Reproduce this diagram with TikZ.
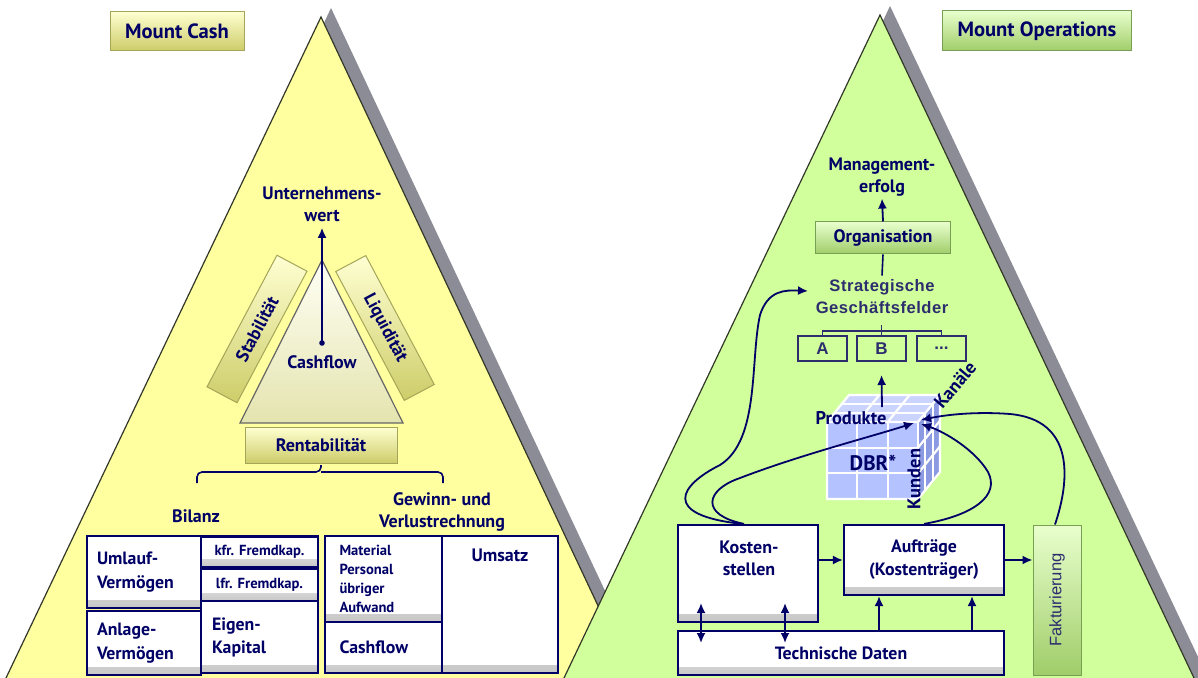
\documentclass[tikz,border=0pt]{standalone}
\usepackage{fontspec}
\setmainfont{PT Sans}
\newfontfamily\arialf{Liberation Sans}[LetterSpace=3]
\newfontfamily\arialg{Liberation Sans}
\usetikzlibrary{arrows.meta,calc}
\definecolor{navy}{RGB}{0,0,102}
\definecolor{slate}{RGB}{45,45,110}
\definecolor{yellowF}{RGB}{255,255,160}
\definecolor{greenF}{RGB}{208,255,156}
\definecolor{shadowC}{RGB}{140,140,150}
\definecolor{edgeC}{RGB}{50,55,40}
\definecolor{ybtop}{RGB}{255,255,210}
\definecolor{ybbot}{RGB}{205,205,105}
\definecolor{ybdraw}{RGB}{165,165,90}
\definecolor{gbtop}{RGB}{232,255,205}
\definecolor{gbbot}{RGB}{160,205,105}
\definecolor{gbdraw}{RGB}{120,160,85}
\definecolor{cubeF}{RGB}{180,195,255}
\definecolor{cubeT}{RGB}{202,212,255}
\definecolor{cubeR}{RGB}{140,155,225}
\tikzset{
  lbl/.style={text=navy, font=\bfseries\fontsize{9}{11}\selectfont, align=center, inner sep=0pt},
  ybtn/.style={draw=ybdraw, line width=0.5pt, top color=ybtop, bottom color=ybbot, text=navy,
    font=\bfseries\fontsize{9}{11}\selectfont, inner sep=0pt},
  gbtn/.style={draw=gbdraw, line width=0.5pt, top color=gbtop, bottom color=gbbot, text=navy,
    font=\bfseries\fontsize{9}{11}\selectfont, inner sep=0pt},
  titlefont/.style={font=\bfseries\fontsize{10.3}{12}\selectfont},
  wbox/.style={draw=navy, line width=1.1pt, fill=white, inner sep=0pt, text=navy, align=center,
    font=\bfseries\fontsize{8.9}{12}\selectfont,
    path picture={\shade[top color=white, bottom color=black!22]
      ([yshift=4pt]path picture bounding box.south west) rectangle (path picture bounding box.south east);}},
  sgbox/.style={draw=slate, line width=1pt, inner sep=0pt, text=slate,
    font=\arialg\bfseries\fontsize{8.5}{10}\selectfont, minimum width=24.5pt, minimum height=12.5pt},
  arr/.style={navy, line width=0.9pt, -{Latex[length=5pt,width=4.5pt]}},
  darr/.style={navy, line width=0.9pt, {Latex[length=5pt,width=4.5pt]}-{Latex[length=5pt,width=4.5pt]}},
  cline/.style={navy, line width=0.8pt},
  grid/.style={white, line width=1.1pt},
  bold/.style={text=navy, font=\bfseries\fontsize{9.2}{11}\selectfont, inner sep=0pt}
}
\begin{document}
\begin{tikzpicture}[x=0.5pt,y=-0.5pt]
\useasboundingbox (0,0) rectangle (1198,678);
\fill[white] (0,0) rectangle (1198,678);

% ---------- triangles ----------
\fill[shadowC] (331,8) -- (16,678) -- (646,678) -- cycle;
\fill[yellowF] (321,17) -- (6,678) -- (632,678) -- cycle;
\draw[edgeC, line width=0.6pt] (6,678) -- (321,17) -- (632,678);
\fill[shadowC] (890,6) -- (575,678) -- (1208,678) -- cycle;
\fill[greenF] (880,15) -- (564,678) -- (1194,678) -- cycle;
\draw[edgeC, line width=0.6pt] (564,678) -- (880,15) -- (1194,678);

% ---------- Mount Cash ----------
\node[ybtn, titlefont, minimum width=67pt, minimum height=19.5pt] (mc) at (177,31) {Mount Cash};
\node[lbl] (uw) at (322,204) {Unternehmens-\\wert};
\path[draw=black!60, line width=0.6pt, top color={rgb,255:red,255;green,255;blue,245},
  bottom color={rgb,255:red,228;green,228;blue,175}] (322,260) -- (240,423) -- (403,423) -- cycle;
\node[lbl] (cf) at (322,362) {Cashflow};
\coordinate (cfdot) at (322,343);
\fill[navy] (cfdot) circle (1.4pt);
\draw[arr] (cfdot) -- ([yshift=-3pt]uw.south);
\node[ybtn, rotate=62, minimum width=74.5pt, minimum height=17pt] (stab) at (257,329) {Stabilität};
\node[ybtn, rotate=-62, minimum width=73pt, minimum height=17pt] (liq) at (385,328) {Liquidität};
\node[ybtn, minimum width=76pt, minimum height=18pt] (rent) at (321,445) {Rentabilität};
\coordinate (brL) at (197,483);
\coordinate (brM) at (321,465);
\coordinate (brR) at (443,483);
\draw[cline, rounded corners=2.5pt] (brL) -- (197,472) -- (321,472) -- (brM);
\draw[cline, rounded corners=2.5pt] (321,472) -- (443,472) -- (brR);
\node[lbl] (bil) at (196,516) {Bilanz};
\node[lbl] (guv) at (442,512) {Gewinn- und\\Verlustrechnung};

% Bilanz boxes
\node[wbox, minimum width=57pt, minimum height=36pt, text width=47pt, align=left] (umv) at (144,572) {Umlauf-\\Vermögen};
\node[wbox, minimum width=57pt, minimum height=32pt, text width=47pt, align=left] (anv) at (144,643) {Anlage-\\Vermögen};
\node[wbox, minimum width=58.5pt, minimum height=15.5pt, font=\bfseries\fontsize{7.3}{9}\selectfont] (kfr) at (259.5,552) {kfr. Fremdkap.};
\node[wbox, minimum width=58.5pt, minimum height=16pt, font=\bfseries\fontsize{7.3}{9}\selectfont] (lfr) at (259.5,585) {lfr. Fremdkap.};
\node[wbox, minimum width=58.5pt, minimum height=36pt, text width=47.5pt, align=left, font=\bfseries\fontsize{8.9}{11.5}\selectfont] (ek) at (259.5,637) {Eigen-\\Kapital};
\node[wbox, minimum width=58.5pt, minimum height=43pt, text width=44pt, align=left, font=\bfseries\fontsize{7.3}{9.5}\selectfont] (mat) at (383.5,579) {Material\\Personal\\übriger\\Aufwand};
\node[wbox, minimum width=58.5pt, minimum height=25.5pt, text width=44pt, align=left] (cf2) at (383.5,647.5) {Cashflow};
\node[wbox, minimum width=58pt, minimum height=68.5pt] (ums) at (500,604.5) {};
\node[lbl] (umsT) at (500,555) {Umsatz};

% ---------- Mount Operations ----------
\node[gbtn, titlefont, minimum width=94.5pt, minimum height=20pt] (mo) at (1037,31) {Mount Operations};
\node[lbl] (mgmt) at (882,177) {Management-\\erfolg};
\node[gbtn, minimum width=67.5pt, minimum height=16pt] (org) at (883,238) {Organisation};
\draw[arr] (org.north) -- ([yshift=-1pt]mgmt.south);
\node[text=slate, font=\arialf\bfseries\fontsize{8.3}{11}\selectfont, align=center, inner sep=0pt] (sgf) at (882,297) {Strategische\\Geschäftsfelder};
\draw[cline] (org.south) -- ([yshift=2pt]sgf.north);
\node[sgbox] (bA) at (822.5,348.5) {A};
\node[sgbox] (bB) at (881.5,348.5) {B};
\node[sgbox] (bC) at (941.5,348.5) {...};
\draw[slate, line width=0.9pt] (bA.north) -- (822.5,331) -- (941.5,331) -- (bC.north);
\draw[slate, line width=0.9pt] (bB.north) -- (881.5,325);

% cube
\fill[cubeF] (827,422) rectangle (918,499);
\fill[cubeT] (827,422) -- (918,422) -- (940,395) -- (849,395) -- cycle;
\fill[cubeR] (918,422) -- (940,395) -- (940,472) -- (918,499) -- cycle;
\foreach \i in {1,2} {
  \draw[grid] ({827+91*\i/3},422) -- ({827+91*\i/3},499);
  \draw[grid] (827,{422+77*\i/3}) -- (918,{422+77*\i/3});
  \draw[grid] ({827+91*\i/3},422) -- ({849+91*\i/3},395);
  \draw[grid] ({827+22*\i/3},{422-27*\i/3}) -- ({918+22*\i/3},{422-27*\i/3});
  \draw[grid] ({918+22*\i/3},{422-27*\i/3}) -- ({918+22*\i/3},{499-27*\i/3});
  \draw[grid] (918,{422+77*\i/3}) -- (940,{395+77*\i/3});
}
\draw[grid] (827,499) -- (827,422) -- (849,395) -- (940,395) -- (940,472) -- (918,499) -- cycle;
\draw[grid] (827,422) -- (918,422) -- (940,395);
\draw[grid] (918,422) -- (918,499);
\coordinate (cubetop) at (882,407);
\coordinate (tipA) at (914,423);
\coordinate (tipB) at (921,424);
\coordinate (tipC) at (921,420);
\draw[arr] (cubetop) -- ([yshift=-6.5pt]bB.south);
\node[bold] (prod) at (851,418) {Produkte};
\node[bold, font=\bfseries\fontsize{10.5}{12}\selectfont] (dbr) at (873,463) {DBR*};
\node[bold, rotate=50] (kan) at (955,385) {Kanäle};
\node[bold, rotate=90] (kun) at (914,479) {Kunden};

% bottom boxes
\node[wbox, minimum width=70pt, minimum height=48.5pt] (kost) at (748,573.5) {};
\node[lbl] (kostT) at (749,558) {Kosten-\\stellen};
\node[wbox, minimum width=80pt, minimum height=35pt, font=\bfseries\fontsize{8.9}{11.5}\selectfont] (auf) at (924,560) {Aufträge\\(Kostenträger)};
\node[wbox, minimum width=163pt, minimum height=22pt] (tech) at (841,653) {Technische Daten};
\node[gbtn, minimum width=24pt, minimum height=75pt] (fak) at (1057,600) {};
\node[rotate=90, text=slate, font=\arialg\fontsize{8.3}{10}\selectfont, inner sep=0pt] (fakT) at (1057,600) {Fakturierung};

\draw[arr] (kost.east |- auf.east) -- (auf.west);
\draw[arr] (auf.east) -- (fak.west |- auf.east);
\coordinate (d1) at (701,603);
\coordinate (d2) at (785,603);
\draw[darr] (d1) -- ++(0,40);
\draw[darr] (d2) -- ++(0,40);
\coordinate (u1) at (879,631);
\coordinate (u2) at (972,631);
\draw[arr] (u1) -- (u1 |- auf.south);
\draw[arr] (u2) -- (u2 |- auf.south);

% curves
\draw[arr] ([xshift=-3pt]kost.north) .. controls (660,515) and (680,485) .. (720,465)
  .. controls (760,440) and (750,360) .. (760,315) .. controls (768,290) and (785,290) .. (808,291);
\draw[arr] ([xshift=-2pt]kost.north) .. controls (700,515) and (705,490) .. (740,478)
  .. controls (800,455) and (870,437) .. (tipA);
\draw[arr] (auf.north) .. controls (975,515) and (1000,495) .. (988,472)
  .. controls (975,450) and (945,432) .. (tipB);
\draw[arr] ([xshift=-1pt]fak.north) .. controls (1070,480) and (1075,420) .. (1010,414)
  .. controls (970,411) and (940,416) .. (tipC);
\end{tikzpicture}
\end{document}
